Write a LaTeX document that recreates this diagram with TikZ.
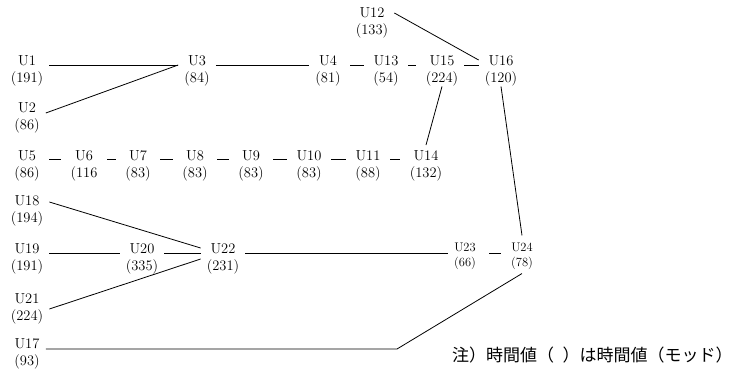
\documentclass[tikz,border=0pt]{standalone}
\usepackage{fontspec}
\usepackage{tikz}
\newfontfamily\jpfont{Noto Sans CJK JP}

\begin{document}
\begin{tikzpicture}[x=1pt,y=-1pt,
      unit/.style={align=center,inner xsep=6pt,inner ysep=0pt,font=\fontsize{14.5}{17}\selectfont},
      smallunit/.style={unit,font=\fontsize{12.5}{15}\selectfont},
      link/.style={line width=0.8pt},
      tie/.style={link,shorten <=3.5pt,shorten >=3.5pt}]
    \useasboundingbox (0,0) rectangle (733,370);
    \node[unit] (u12) at (372,23) {U12\\(133)};
    \node[unit] (u1) at (27,71) {U1\\(191)};
    \node[unit] (u3) at (197,71) {U3\\(84)};
    \node[unit] (u4) at (328,71) {U4\\(81)};
    \node[unit] (u13) at (386,71) {U13\\(54)};
    \node[unit] (u15) at (442,71) {U15\\(224)};
    \node[unit] (u16) at (501,71) {U16\\(120)};
    \node[unit] (u2) at (27,117.5) {U2\\(86)};
    \node[unit] (u5) at (27,165.5) {U5\\(86)};
    \node[unit] (u6) at (84,165.5) {U6\\(116};
    \node[unit] (u7) at (138,165.5) {U7\\(83)};
    \node[unit] (u8) at (195,165.5) {U8\\(83)};
    \node[unit] (u9) at (251,165.5) {U9\\(83)};
    \node[unit] (u10) at (309,165.5) {U10\\(83)};
    \node[unit] (u11) at (368,165.5) {U11\\(88)};
    \node[unit] (u14) at (426,165.5) {U14\\(132)};
    \node[unit] (u18) at (27,211) {U18\\(194)};
    \node[unit] (u19) at (27,259) {U19\\(191)};
    \node[unit] (u20) at (142,259) {U20\\(335)};
    \node[unit] (u22) at (223,259) {U22\\(231)};
    \node[smallunit] (u23) at (465,256) {U23\\(66)};
    \node[smallunit] (u24) at (522,256) {U24\\(78)};
    \node[unit] (u21) at (27,308.5) {U21\\(224)};
    \node[unit] (u17) at (27,354) {U17\\(93)};
    \coordinate (bend) at (397,349);
    \node[anchor=west,inner sep=0pt,font=\jpfont\fontsize{17}{19}\selectfont] (note) at (452,355) {注）時間値（\hspace{0.5em}）は時間値（モッド）};
    \draw[link] ([yshift=6pt]u1.east) -- ([yshift=6pt]u3.west);
    \draw[link] ([yshift=4.5pt]u2.east) -- ([yshift=6pt]u3.west);
    \draw[link] ([yshift=6pt]u3.east) -- ([yshift=6pt]u4.west);
    \draw[tie] ([yshift=6pt]u4.east) -- ([yshift=6pt]u13.west);
    \draw[tie] ([yshift=6pt]u13.east) -- ([yshift=6pt]u15.west);
    \draw[tie,shorten <=0pt,shorten >=0pt] ([yshift=6pt]u15.east) -- ([yshift=6pt]u16.west);
    \draw[link] ([yshift=10pt]u12.east) -- ([yshift=11pt]u16.west);
    \draw[link] (u15.south) -- ([yshift=5pt]u14.north);
    \draw[link] (u16.south) -- ([yshift=7pt]u24.north);
    \draw[tie] ([yshift=6.5pt]u5.east) -- ([yshift=6.5pt]u6.west);
    \draw[tie] ([yshift=6.5pt]u6.east) -- ([yshift=6.5pt]u7.west);
    \draw[tie] ([yshift=6.5pt]u7.east) -- ([yshift=6.5pt]u8.west);
    \draw[tie] ([yshift=6.5pt]u8.east) -- ([yshift=6.5pt]u9.west);
    \draw[tie] ([yshift=6.5pt]u9.east) -- ([yshift=6.5pt]u10.west);
    \draw[tie] ([yshift=6.5pt]u10.east) -- ([yshift=6.5pt]u11.west);
    \draw[tie] ([yshift=6.5pt]u11.east) -- ([yshift=6.5pt]u14.west);
    \draw[link] ([yshift=9pt]u18.east) -- ([yshift=11pt]u22.west);
    \draw[link] ([yshift=6pt]u19.east) -- ([yshift=6pt]u20.west);
    \draw[link] ([yshift=6pt]u20.east) -- ([yshift=6pt]u22.west);
    \draw[link] ([yshift=-0.5pt]u21.east) -- (u22.west);
    \draw[link] ([yshift=6pt]u22.east) -- ([yshift=3pt]u23.west);
    \draw[tie,shorten <=7pt,shorten >=4pt] ([yshift=3pt]u23.east) -- ([yshift=3pt]u24.west);
    \draw[link] ([yshift=5pt]u17.east) -- (bend) -- ([yshift=-4pt]u24.south);
  \end{tikzpicture}
\end{document}
